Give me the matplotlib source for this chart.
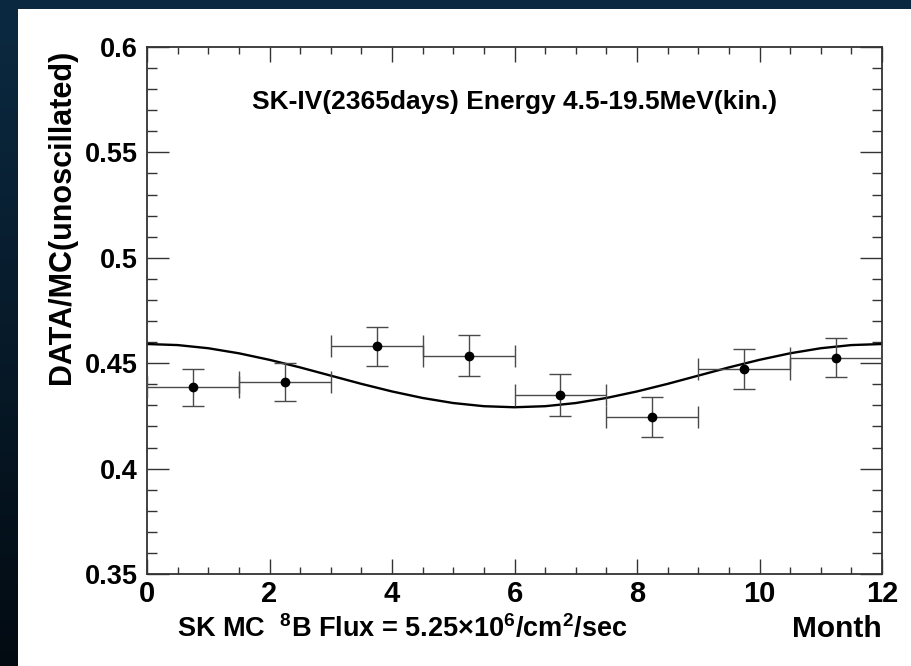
import numpy as np
import matplotlib
matplotlib.use('Agg')
import matplotlib.pyplot as plt
from matplotlib.patches import Rectangle
from matplotlib.ticker import MultipleLocator, FuncFormatter

# measured points (month bins of 1.5 months)
month = [0.75, 2.25, 3.75, 5.25, 6.75, 8.25, 9.75, 11.25]
month_err = [0.75, 0.75, 0.75, 0.75, 0.75, 0.75, 0.75, 0.75]
ratio = [0.4386, 0.4412, 0.4580, 0.4536, 0.4349, 0.4245, 0.4473, 0.4526]
ratio_err = [0.0087, 0.0089, 0.0092, 0.0098, 0.0101, 0.0094, 0.0096, 0.0092]

curve_month = [0, 0.5, 1, 1.5, 2, 2.5, 3, 3.5, 4, 4.5, 5, 5.5, 6,
               6.5, 7, 7.5, 8, 8.5, 9, 9.5, 10, 10.5, 11, 11.5, 12]
curve_ratio = [0.4591, 0.4586, 0.4571, 0.4547, 0.4516, 0.4480, 0.4441, 0.4402,
               0.4366, 0.4335, 0.4311, 0.4296, 0.4291, 0.4296, 0.4311, 0.4335,
               0.4366, 0.4402, 0.4441, 0.4480, 0.4516, 0.4547, 0.4571, 0.4586,
               0.4591]

title_text = 'SK-IV(2365days) Energy 4.5-19.5MeV(kin.)'
flux_text = r'SK MC  $^{\mathdefault{8}}$B Flux = 5.25×10$^{\mathdefault{6}}$/cm$^{\mathdefault{2}}$/sec'

plt.rcParams['font.family'] = ['Liberation Sans', 'DejaVu Sans']
plt.rcParams['font.weight'] = 'bold'

W, H = 911, 666
fig = plt.figure(figsize=(W / 100, H / 100), dpi=100)

# dark slide background with a vertical gradient
bg = fig.add_axes([0, 0, 1, 1], zorder=0)
top = np.array([11, 42, 66]) / 255
bottom = np.array([3, 11, 18]) / 255
t = np.linspace(0, 1, 256)[:, None]
grad = top[None, :] * (1 - t) + bottom[None, :] * t
bg.imshow(grad[:, None, :].repeat(4, axis=1), aspect='auto', extent=[0, 1, 0, 1])
bg.add_patch(Rectangle((18 / W, 0), 1, 1 - 9 / H, facecolor='white', edgecolor='none'))
bg.set_xlim(0, 1)
bg.set_ylim(0, 1)
bg.axis('off')

ax = fig.add_axes([147 / W, 1 - 574 / H, 735 / W, 527 / H], zorder=1)
ax.set_facecolor('white')

ax.plot(curve_month, curve_ratio, color='black', linewidth=1.7, zorder=2)
ax.errorbar(month, ratio, xerr=month_err, yerr=ratio_err, fmt='o', color='black',
            markersize=6, ecolor='#4a4a4a', elinewidth=1.0, capsize=8, capthick=1.0,
            zorder=3)

ax.set_xlim(0, 12)
ax.set_ylim(0.35, 0.6)
ax.xaxis.set_major_locator(MultipleLocator(2))
ax.xaxis.set_minor_locator(MultipleLocator(0.5))
ax.yaxis.set_major_locator(MultipleLocator(0.05))
ax.yaxis.set_minor_locator(MultipleLocator(0.01))
ax.yaxis.set_major_formatter(FuncFormatter(lambda v, p: '%g' % round(v, 2)))

ax.tick_params(which='both', direction='in', top=True, right=True,
               color='#333333', width=1.0)
ax.tick_params(axis='x', which='major', length=10.8, labelsize=21, pad=4)
ax.tick_params(axis='x', which='minor', length=5)
ax.tick_params(axis='y', which='major', length=15.8, labelsize=19.5, pad=6.5)
ax.tick_params(axis='y', which='minor', length=7.5)
for spine in ax.spines.values():
    spine.set_linewidth(1.3)
    spine.set_color('#333333')

ax.text(0.5, 0.896, title_text, transform=ax.transAxes, ha='center', va='center',
        fontsize=19)
ax.text(1.0, (574 - 637) / 527, 'Month', transform=ax.transAxes, ha='right',
        va='baseline', fontsize=21.5)
ax.text((177 - 147) / 735, (574 - 637) / 527, flux_text, transform=ax.transAxes,
        ha='left', va='baseline', fontsize=19.5)
fig.text(62 / W, 1 - 50 / H, 'DATA/MC(unoscillated)', rotation=90, ha='center',
         va='top', fontsize=22)

fig.savefig('out.png', dpi=100)
